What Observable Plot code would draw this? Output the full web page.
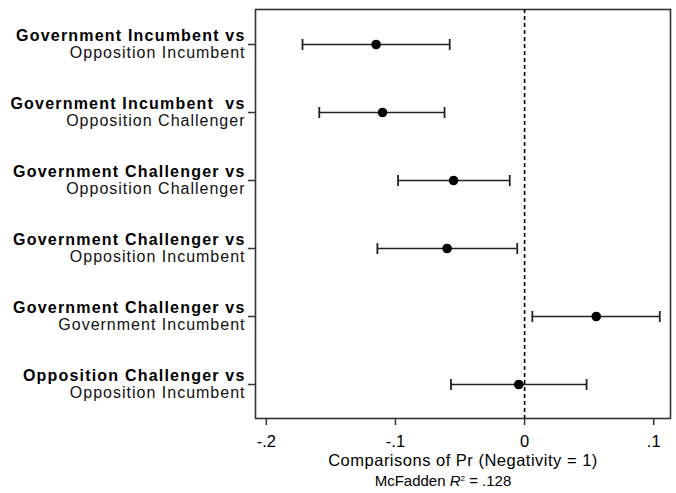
<!DOCTYPE html>
<html>
<head>
<meta charset="utf-8">
<script src="https://cdn.jsdelivr.net/npm/d3@7"></script>
<script src="https://cdn.jsdelivr.net/npm/@observablehq/plot@0.6"></script>
<style>
  html, body { margin: 0; padding: 0; background: #fff; }
  #chart svg { display: block; }
</style>
</head>
<body>
<div id="chart"></div>
<script>
// ---- data ----
const firstLines = [
  "Government Incumbent vs",
  "Government Incumbent\u00a0 vs",
  "Government Challenger vs",
  "Government Challenger vs",
  "Government Challenger vs",
  "Opposition Challenger vs"
];
const secondLines = [
  "Opposition Incumbent",
  "Opposition Challenger",
  "Opposition Challenger",
  "Opposition Incumbent",
  "Government Incumbent",
  "Opposition Incumbent"
];
const estimates = [-0.115, -0.110, -0.055, -0.060, 0.0555, -0.0045];
const lower     = [-0.172, -0.159, -0.098, -0.114, 0.006, -0.057];
const upper     = [-0.058, -0.062, -0.0115, -0.0057, 0.1047, 0.048];
const xTicks = [-0.2, -0.1, 0, 0.1];
const xTitle = "Comparisons of Pr (Negativity = 1)";
const fitNote = "McFadden R2 = .128";

const rows = firstLines.map((f, i) => ({
  id: f + " " + secondLines[i] + " #" + i,
  first: f, second: secondLines[i],
  est: estimates[i], lo: lower[i], hi: upper[i]
}));

const fmt = d => d === 0 ? "0" : (d < 0 ? "-" : "") + String(Math.abs(d)).replace(/^0/, "");

const capSymbol = {
  draw(context, size) {
    const r = Math.sqrt(size / Math.PI);
    context.moveTo(0, -r);
    context.lineTo(0, r);
  }
};

const FONT = "'Liberation Sans', Arial, Helvetica, sans-serif";
const ink = "#222";

const chart = Plot.plot({
  width: 676,
  height: 493,
  marginLeft: 255,
  marginRight: 6,
  marginTop: 9,
  marginBottom: 75,
  style: { fontFamily: FONT, fontSize: "17px", color: "#000", background: "#fff" },
  x: { domain: [-0.2084, 0.113] },
  y: { type: "point", domain: rows.map(d => d.id), padding: 0.5 },
  marks: [
    Plot.frame({ stroke: "#333", strokeWidth: 1.6 }),
    Plot.ruleX([0], { stroke: "#000", strokeWidth: 1.6, strokeDasharray: "4,3" }),
    Plot.axisX({ ticks: xTicks, tickFormat: fmt, tickSize: 7, tickPadding: 10, label: null,
                 stroke: "#333", strokeWidth: 1.5, fontSize: 16.5, fill: "#000" }),
    Plot.axisY({ tickSize: 7, tickFormat: () => "", label: null, stroke: "#333", strokeWidth: 1.5 }),
    Plot.ruleY(rows, { y: "id", x1: "lo", x2: "hi", stroke: ink, strokeWidth: 1.7 }),
    Plot.dot(rows, { x: "lo", y: "id", symbol: capSymbol, r: 5.5, stroke: ink, strokeWidth: 1.8, fill: "none" }),
    Plot.dot(rows, { x: "hi", y: "id", symbol: capSymbol, r: 5.5, stroke: ink, strokeWidth: 1.8, fill: "none" }),
    Plot.dot(rows, { x: "est", y: "id", r: 4.8, fill: "#000", stroke: "none" }),
    Plot.text(rows, { y: "id", text: "first", frameAnchor: "left", textAnchor: "end", lineAnchor: "bottom",
                      dx: -10, dy: -3.5, fontWeight: "bold", fontSize: 16, fill: "#000", className: "lab1" }),
    Plot.text(rows, { y: "id", text: "second", frameAnchor: "left", textAnchor: "end", lineAnchor: "bottom",
                      dx: -10, dy: 13, fontSize: 16, fill: "#111", className: "lab2" }),
    Plot.text([xTitle], { text: d => d, frameAnchor: "bottom", lineAnchor: "middle", dy: 42,
                          fontSize: 16.5, fill: "#000", className: "xtitle" }),
    Plot.text([fitNote], { text: d => d, frameAnchor: "bottom", lineAnchor: "middle", dy: 62.5, dx: -20,
                           fontSize: 15, fill: "#000", className: "fitnote" })
  ]
});

document.getElementById("chart").appendChild(chart);

// widen text slightly to match the reference's proportions
d3.select(chart).selectAll("g.lab1 text").attr("letter-spacing", "1.2px");
d3.select(chart).selectAll("g.lab2 text").attr("letter-spacing", "1px");
d3.select(chart).selectAll("g.xtitle text").attr("letter-spacing", "0.5px");

// style the fit note: italic R, superscript 2
d3.select(chart).selectAll("g.fitnote text").each(function () {
  const t = d3.select(this);
  t.text(null);
  t.append("tspan").text("McFadden ");
  t.append("tspan").attr("font-style", "italic").text("R");
  t.append("tspan").attr("font-size", "8px").attr("dy", "-0.6em").text("2");
  t.append("tspan").attr("dy", "0.35em").text(" = .128");
});
</script>
</body>
</html>
